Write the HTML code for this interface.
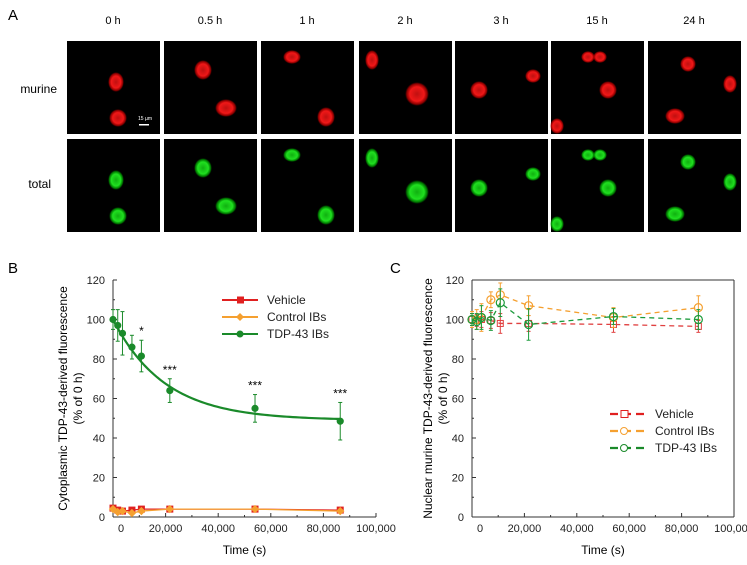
<!DOCTYPE html>
<html><head><meta charset="utf-8"><style>
html,body{margin:0;padding:0;background:#fff;}
svg{display:block;font-family:"Liberation Sans",Arial,sans-serif;}
</style></head><body>
<svg id="fig" width="747" height="565" viewBox="0 0 747 565">
<defs>
<radialGradient id="gr" cx="50%" cy="50%" r="50%"><stop offset="0" stop-color="#c01010"/><stop offset="0.6" stop-color="#f01818"/><stop offset="0.85" stop-color="#c00" stop-opacity="0.7"/><stop offset="1" stop-color="#800" stop-opacity="0"/></radialGradient>
<radialGradient id="gg" cx="50%" cy="50%" r="50%"><stop offset="0" stop-color="#10b010"/><stop offset="0.6" stop-color="#20e020"/><stop offset="0.85" stop-color="#0a0" stop-opacity="0.7"/><stop offset="1" stop-color="#060" stop-opacity="0"/></radialGradient>
</defs>
<g id="panelA">
<text x="8" y="20" font-size="15">A</text>
<text x="57" y="93" font-size="12" text-anchor="end">murine</text>
<text x="51" y="188" font-size="12" text-anchor="end">total</text>
</g>
<g id="panelB"></g>
<g id="panelC"></g>
</svg>
<script>
const NS='http://www.w3.org/2000/svg';
function mk(tag,attrs,parent,text){const e=document.createElementNS(NS,tag);for(const k in attrs)e.setAttribute(k,attrs[k]);if(text!==undefined)e.textContent=text;parent.appendChild(e);return e;}
// ---------- Panel A ----------
const timeLabels=['0 h','0.5 h','1 h','2 h','3 h','15 h','24 h'];
const colX=[67,164,261,359,455,551,648];
const nuclei=[[[49,41,8,10],[51,77,9,9]],[[39,29,9,10],[62,67,11,9]],[[31,16,9,7],[65,76,9,10]],[[13,19,7,10],[58,53,12,12]],[[24,49,9,9],[78,35,8,7]],[[37,16,7,6],[49,16,7,6],[57,49,9,9],[6,85,7,8]],[[40,23,8,8],[82,43,7,9],[27,75,10,8]]];
const A=document.getElementById('panelA');
timeLabels.forEach((t,i)=>{
 const lab=mk('text',{x:colX[i]+46,y:24,'font-size':11,'text-anchor':'middle'},A,t);
 
 
 [[41,'gr'],[139,'gg']].forEach(([y0,g],r)=>{
  const im=mk('g',{},A);
  
  
  mk('rect',{x:colX[i],y:y0,width:93,height:93,fill:'#000'},im);
  nuclei[i].forEach(n=>mk('ellipse',{cx:colX[i]+n[0],cy:y0+n[1],rx:n[2],ry:n[3],fill:'url(#'+g+')'},im));
 });
});
mk('text',{x:138,y:120,'font-size':5,fill:'#fff'},A,'15 µm');
mk('rect',{x:139,y:124,width:10,height:1.5,fill:'#fff'},A);

// ---------- Panel B data ----------
const timesB=[0,1800,3600,7200,10800,21600,54000,86400];
const tdpB=[100,97,93,86,81.5,64,55,48.5];
const tdpErrB=[5,8,11,6,8,6,7,9.5];
const vehicleB=[4.5,3.5,3,3.5,4,4,4,3.5];
const controlB=[4,2.5,3,2,3,4,4,3];
const fitPlateau=49;const fitAmp=51;const fitTau=19700;
const sigB=['','','','','*','***','***','***'];
const xTicks=[0,20000,40000,60000,80000,100000];
const xTickLabels=['0','20,000','40,000','60,000','80,000','100,000'];
const yTicks=[0,20,40,60,80,100,120];

function makeAxes(G,x0,x1,yTop,yBot,frame,ylab1,ylab2,ylabX){
 const xs=v=>x0+(v/100000)*(x1-x0);
 const ys=v=>yBot-(v/120)*(yBot-yTop);
 const ax=mk('g',{},G);
 
 
 mk('line',{x1:x0,y1:yTop,x2:x0,y2:yBot,stroke:'#333','stroke-width':1},ax);
 mk('line',{x1:x0,y1:yBot,x2:x1,y2:yBot,stroke:'#333','stroke-width':1},ax);
 if(frame){mk('line',{x1:x0,y1:yTop,x2:x1,y2:yTop,stroke:'#333'},ax);mk('line',{x1:x1,y1:yTop,x2:x1,y2:yBot,stroke:'#333'},ax);}
 yTicks.forEach(v=>{mk('line',{x1:x0,y1:ys(v),x2:x0+4,y2:ys(v),stroke:'#333'},ax);
  const t=mk('text',{x:x0-8,y:ys(v)+4,'font-size':11,'text-anchor':'end',fill:'#222'},ax,String(v));
  
  if(v<120){mk('line',{x1:x0,y1:ys(v+10),x2:x0+2,y2:ys(v+10),stroke:'#333'},ax);}});
 xTicks.forEach((v,i)=>{mk('line',{x1:xs(v),y1:yBot,x2:xs(v),y2:yBot-4,stroke:'#333'},ax);
  if(v<100000)mk('line',{x1:xs(v+10000),y1:yBot,x2:xs(v+10000),y2:yBot-2,stroke:'#333'},ax);
  const t=mk('text',{x:xs(v)+(i==0?8:0),y:yBot+15,'font-size':11,'text-anchor':'middle',fill:'#222'},ax,xTickLabels[i]);
  });
 const xt=mk('text',{x:(x0+x1)/2,y:yBot+37,'font-size':12,'text-anchor':'middle'},ax,'Time (s)');
 
 const cy=(yTop+yBot)/2;
 const yt=mk('text',{transform:`translate(${ylabX},${cy}) rotate(-90)`,'font-size':12,'text-anchor':'middle'},ax);
 
 mk('tspan',{x:0,dy:0},yt,ylab1);mk('tspan',{x:0,dy:15},yt,ylab2);
 return [xs,ys];
}
// ---------- Panel B ----------
const B=document.getElementById('panelB');
mk('text',{x:8,y:273,'font-size':15},B,'B');
const [bx,by]=makeAxes(B,113,376,280,517,false,'Cytoplasmic TDP-43-derived fluorescence','(% of 0 h)',67);
function series(G,name,times,vals,errs,color,marker,dash,xs,ys,lineOn,open){
 const g=mk('g',{},G);
 
 
 if(lineOn){mk('polyline',{points:times.map((t,i)=>xs(t)+','+ys(vals[i])).join(' '),fill:'none',stroke:color,'stroke-width':1.3,'stroke-dasharray':dash||''},g);}
 times.forEach((t,i)=>{
  if(errs){mk('line',{x1:xs(t),y1:ys(vals[i]-errs[i]),x2:xs(t),y2:ys(vals[i]+errs[i]),stroke:color,'stroke-width':1},g);
   [-1,1].forEach(s=>mk('line',{x1:xs(t)-2,y1:ys(vals[i]+s*errs[i]),x2:xs(t)+2,y2:ys(vals[i]+s*errs[i]),stroke:color},g));}
  const f=open?'none':color;
  let m;
  if(marker=='sq')m=mk('rect',{x:xs(t)-3,y:ys(vals[i])-3,width:6,height:6,fill:f,stroke:color,'stroke-width':1},g);
  else if(marker=='di')m=mk('path',{d:`M${xs(t)},${ys(vals[i])-3.5}l3.5,3.5l-3.5,3.5l-3.5,-3.5z`,fill:f,stroke:color},g);
  else m=mk('circle',{cx:xs(t),cy:ys(vals[i]),r:open?4:3,fill:f,stroke:color,'stroke-width':1.2},g);
  
  
 });
}
series(B,'vehicle-series',timesB,vehicleB,null,'#e02020','sq','',bx,by,true,false);
series(B,'control-series',timesB,controlB,null,'#f5a030','di','',bx,by,true,false);
const fitPts=[];for(let t=0;t<=86400;t+=1200)fitPts.push(bx(t)+','+by(fitPlateau+fitAmp*Math.exp(-t/fitTau)));
const fit=mk('polyline',{points:fitPts.join(' '),fill:'none',stroke:'#1a8a2a','stroke-width':2.2},B);


series(B,'tdp43-series',timesB,tdpB,tdpErrB,'#1a8a2a','ci','',bx,by,false,false);
timesB.forEach((t,i)=>{if(sigB[i]){const s=mk('text',{x:bx(t),y:by(tdpB[i]+tdpErrB[i])-5,'font-size':12,'text-anchor':'middle'},B,sigB[i]);
 }});
const legB=[['Vehicle','#e02020','sq'],['Control IBs','#f5a030','di'],['TDP-43 IBs','#1a8a2a','ci']];
legB.forEach((l,i)=>{const g=mk('g',{},B);
 
 
 const y=300+i*17;mk('line',{x1:222,y1:y,x2:258,y2:y,stroke:l[1],'stroke-width':2},g);
 if(l[2]=='sq')mk('rect',{x:237,y:y-3.5,width:7,height:7,fill:l[1]},g);
 else if(l[2]=='di')mk('path',{d:`M240,${y-4}l4,4l-4,4l-4,-4z`,fill:l[1]},g);
 else mk('circle',{cx:240,cy:y,r:3.5,fill:l[1]},g);
 mk('text',{x:267,y:y+4,'font-size':12,fill:'#222'},g,l[0]);});

// ---------- Panel C data ----------
const timesC=[0,1800,3600,7200,10800,21600,54000,86400];
const vehicleC=[100,99.5,100,99.5,98,98,97.5,96.5];
const vehicleErrC=[3,3,4,4,5,4,4,3];
const controlC=[100,100,101,110,112.5,107,101,106];
const controlErrC=[4,5,7,4,6,5,5,6];
const tdpC=[100,99,101,99.5,108.5,97.5,101.5,100];
const tdpErrC=[3,4,6,5,7,8,4,5];
const C=document.getElementById('panelC');
mk('text',{x:390,y:273,'font-size':15},C,'C');
const [cx,cy]=makeAxes(C,472,734,280,517,true,'Nuclear murine TDP-43-derived fluorescence','(% of 0 h)',432);
series(C,'vehicle-series-c',timesC,vehicleC,vehicleErrC,'#e04040','sq','5,4',cx,cy,true,true);
series(C,'control-series-c',timesC,controlC,controlErrC,'#f5a030','ci','5,4',cx,cy,true,true);
series(C,'tdp43-series-c',timesC,tdpC,tdpErrC,'#1a9a3a','ci','5,4',cx,cy,true,true);
const legC=[['Vehicle','#e02020','sq'],['Control IBs','#f5a030','ci'],['TDP-43 IBs','#1a8a2a','ci']];
legC.forEach((l,i)=>{const g=mk('g',{},C);
 
 
 const y=414+i*17;mk('line',{x1:610,y1:y,x2:644,y2:y,stroke:l[1],'stroke-width':2.2,'stroke-dasharray':'8,5'},g);
 if(l[2]=='sq')mk('rect',{x:621,y:y-3.5,width:7,height:7,fill:'#fff',stroke:l[1]},g);
 else mk('circle',{cx:624,cy:y,r:3.5,fill:'#fff',stroke:l[1]},g);
 mk('text',{x:655,y:y+4,'font-size':12,fill:'#222'},g,l[0]);});
</script>
</body></html>
